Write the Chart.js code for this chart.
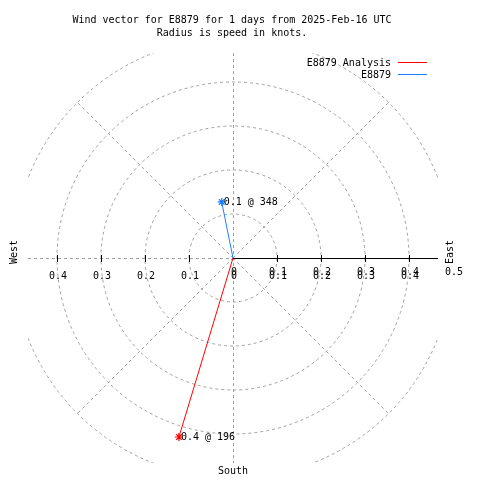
<!DOCTYPE html>
<html>
<head>
<meta charset="utf-8">
<script src="https://cdn.jsdelivr.net/npm/chart.js@4"></script>
<style>
html,body{margin:0;padding:0;background:#fff;}
canvas{display:block;}
</style>
</head>
<body>
<canvas id="c" width="480" height="480"></canvas>
<script>
// ---- data ----
const titleLines = ['Wind vector for E8879 for 1 days from 2025-Feb-16 UTC', 'Radius is speed in knots.'];
const seriesNames = ['E8879 Analysis', 'E8879'];
const speeds = [0.425, 0.13];          // knots
const directions = [196.8, 348.6];     // degrees clockwise from north
const ringValues = [0.1, 0.2, 0.3, 0.4, 0.5];
const radialTicks = [-0.4, -0.3, -0.2, -0.1, 0, 0.1, 0.2, 0.3, 0.4];
const axisTicks = [0, 0.1, 0.2, 0.3, 0.4, 0.5];
const compassLabels = ['West', 'East', 'South'];
const R = 0.4659;

// ---- styles ----
const seriesColors = ['#ff0000', '#1a80ff'];
const gridColor = '#a0a0a0';
const FONT = '10px "DejaVu Sans Mono", "Liberation Mono", monospace';

const datasets = seriesNames.map((name, i) => {
  const rad = directions[i] * Math.PI / 180;
  const u = speeds[i] * Math.sin(rad);
  const v = speeds[i] * Math.cos(rad);
  return {
    label: name,
    data: [{x: 0, y: 0}, {x: u, y: v}],
    showLine: true,
    borderColor: seriesColors[i],
    backgroundColor: seriesColors[i],
    borderWidth: 1,
    pointStyle: 'star',
    pointRadius: [0, 4],
    pointBorderWidth: 1.2,
    pointBorderColor: seriesColors[i],
    vecLabel: speeds[i].toFixed(1) + ' @ ' + Math.floor(directions[i])
  };
});

const polarGrid = {
  id: 'polarGrid',
  beforeDatasetsDraw(chart) {
    const {ctx, chartArea: a, scales: {x, y}} = chart;
    const cx = x.getPixelForValue(0), cy = y.getPixelForValue(0);
    ctx.save();
    ctx.beginPath();
    ctx.rect(a.left, a.top, a.right - a.left, a.bottom - a.top);
    ctx.clip();
    ctx.strokeStyle = gridColor;
    ctx.lineWidth = 1;
    ctx.setLineDash([3, 3]);
    ringValues.forEach(r => {
      const pr = x.getPixelForValue(r) - cx;
      ctx.beginPath();
      ctx.arc(cx, cy, pr, 0, Math.PI * 2);
      ctx.stroke();
    });
    // radial diagonals
    [45, 135, 225, 315].forEach(d => {
      const rad = d * Math.PI / 180;
      const r = ringValues[ringValues.length - 1];
      ctx.beginPath();
      ctx.moveTo(cx, cy);
      ctx.lineTo(x.getPixelForValue(r * Math.sin(rad)), y.getPixelForValue(r * Math.cos(rad)));
      ctx.stroke();
    });
    // N-S and E-W dashed
    ctx.beginPath();
    ctx.moveTo(Math.round(cx) + 0.5, a.top);
    ctx.lineTo(Math.round(cx) + 0.5, a.bottom);
    ctx.moveTo(a.left, Math.round(cy) + 0.5);
    ctx.lineTo(cx, Math.round(cy) + 0.5);
    ctx.stroke();
    // solid axis
    ctx.setLineDash([]);
    ctx.strokeStyle = '#000';
    ctx.beginPath();
    ctx.moveTo(cx, Math.round(cy) + 0.5);
    ctx.lineTo(a.right, Math.round(cy) + 0.5);
    ctx.stroke();
    // tick marks
    ctx.beginPath();
    radialTicks.forEach(t => {
      if (t === 0) return;
      const px = Math.round(x.getPixelForValue(t)) + 0.5;
      ctx.moveTo(px, cy - 3);
      ctx.lineTo(px, cy + 4);
    });
    ctx.stroke();
    ctx.restore();
  },
  afterDraw(chart) {
    const {ctx, chartArea: a, scales: {x, y}} = chart;
    const cx = x.getPixelForValue(0), cy = y.getPixelForValue(0);
    ctx.save();
    ctx.font = FONT;
    ctx.fillStyle = '#000';
    ctx.textBaseline = 'middle';
    ctx.textAlign = 'center';
    // title
    ctx.fillText(titleLines[0], 232, 20);
    ctx.fillText(titleLines[1], 232, 33);
    // tick labels
    radialTicks.forEach(t => {
      ctx.fillText(String(Math.abs(t)), x.getPixelForValue(t) + 1, cy + 18);
    });
    axisTicks.forEach(t => {
      ctx.fillText(String(t), x.getPixelForValue(t) + 1, cy + 14);
    });
    // compass labels
    ctx.save();
    ctx.translate(14, cy - 6);
    ctx.rotate(-Math.PI / 2);
    ctx.fillText(compassLabels[0], 0, 0);
    ctx.restore();
    ctx.save();
    ctx.translate(450, cy - 6);
    ctx.rotate(-Math.PI / 2);
    ctx.fillText(compassLabels[1], 0, 0);
    ctx.restore();
    ctx.fillText(compassLabels[2], cx, 471);
    // vector labels
    ctx.textAlign = 'left';
    chart.data.datasets.forEach((ds, i) => {
      const p = chart.getDatasetMeta(i).data[1];
      ctx.fillText(ds.vecLabel, p.x + 2, p.y);
    });
    // legend
    ctx.textAlign = 'right';
    seriesNames.forEach((n, i) => {
      const ly = 63 + i * 12;
      ctx.fillText(n, 391, ly);
      ctx.strokeStyle = seriesColors[i];
      ctx.lineWidth = 1;
      ctx.beginPath();
      ctx.moveTo(398, Math.round(ly - 1) + 0.5);
      ctx.lineTo(427, Math.round(ly - 1) + 0.5);
      ctx.stroke();
    });
    ctx.restore();
  }
};

new Chart(document.getElementById('c'), {
  type: 'scatter',
  data: {datasets},
  options: {
    responsive: false,
    animation: false,
    devicePixelRatio: 1,
    layout: {padding: {left: 28, right: 42, top: 53, bottom: 17}},
    plugins: {legend: {display: false}, tooltip: {enabled: false}},
    scales: {
      x: {type: 'linear', min: -R, max: R, display: false},
      y: {type: 'linear', min: -R, max: R, display: false}
    }
  },
  plugins: [polarGrid]
});
</script>
</body>
</html>
